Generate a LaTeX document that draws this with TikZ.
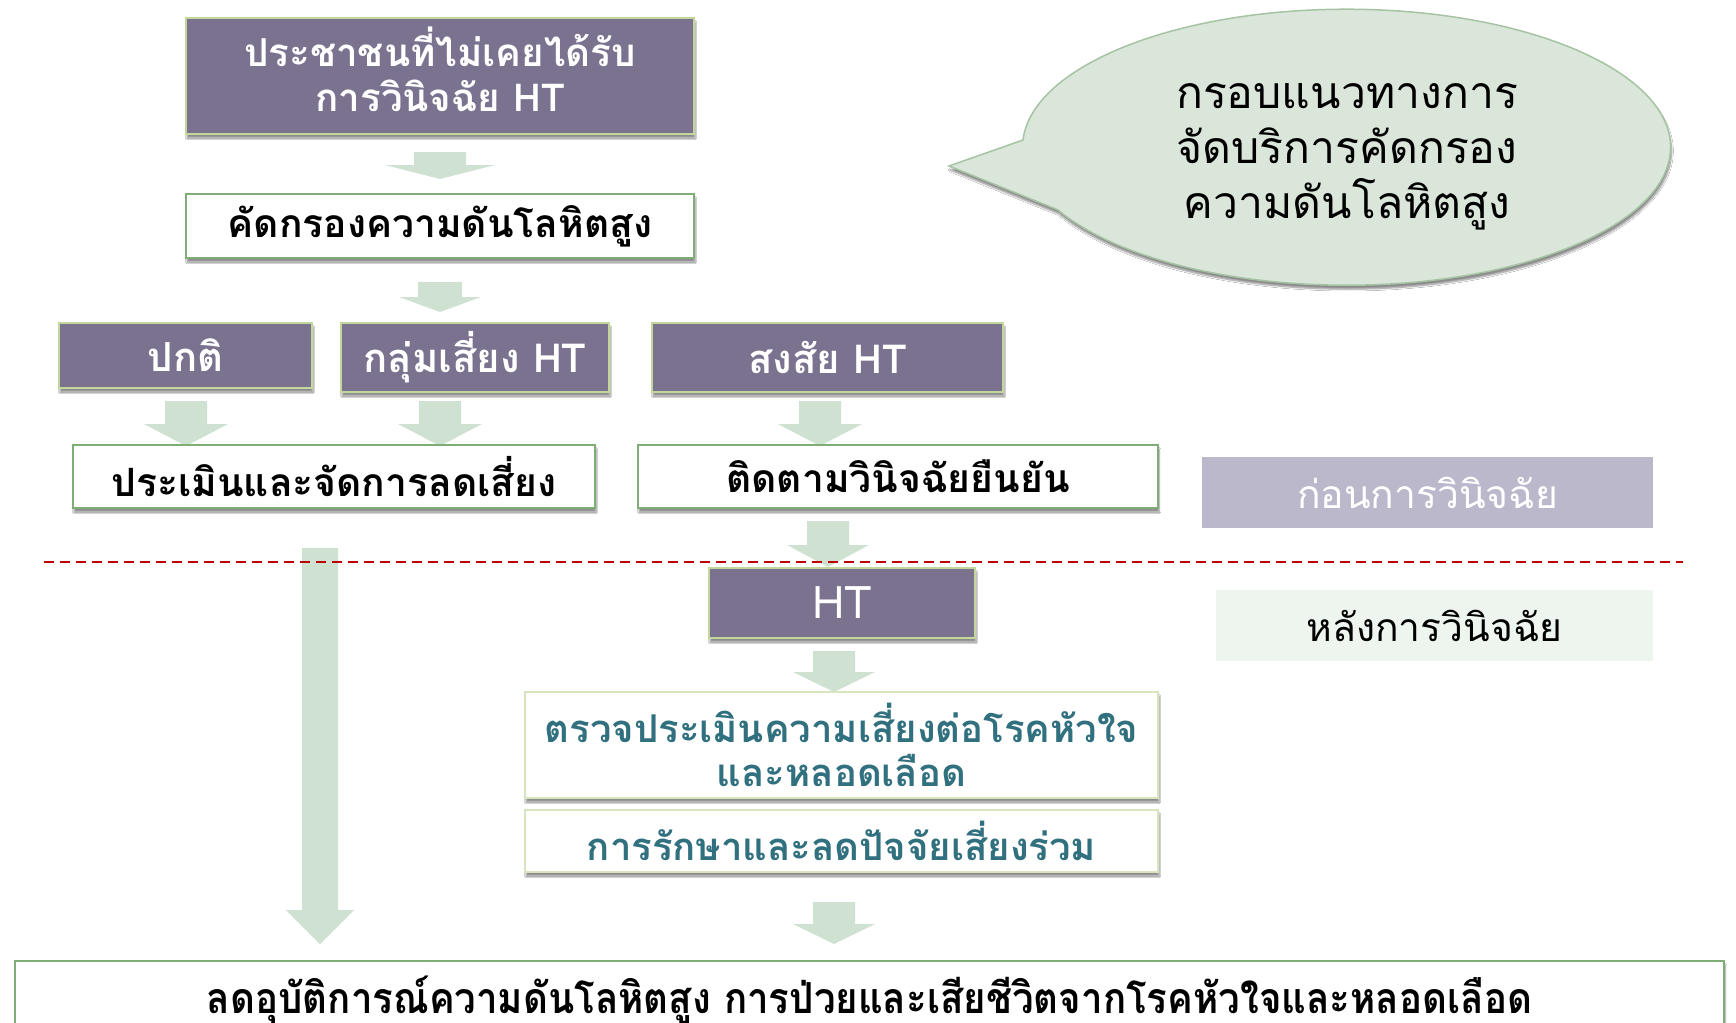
\documentclass[tikz,border=0pt]{standalone}
\usepackage{fontspec}
\usepackage{graphicx}
\newfontfamily\thai[Script=Thai]{Loma}
\usetikzlibrary{shadows.blur,calc}
\definecolor{purp}{HTML}{7B7290}
\definecolor{oliveb}{HTML}{C4D79B}
\definecolor{greenb}{HTML}{7EAD76}
\definecolor{paleb}{HTML}{D7E4BD}
\definecolor{arrowc}{HTML}{CFE1D1}
\definecolor{bubblef}{HTML}{DAE6DA}
\definecolor{bubbled}{HTML}{A6C3A3}
\definecolor{beforef}{HTML}{BCB8CB}
\definecolor{afterf}{HTML}{EEF5EE}
\definecolor{tealt}{HTML}{31707F}
\definecolor{redd}{HTML}{C00000}
\newcommand\bkarrow[5]{% from, to, shaft half width, head half width, head length
  \fill[arrowc] let \p1=(#1), \p2=(#2) in
    (\x1-#3pt,\y1) -- (\x1+#3pt,\y1) -- (\x1+#3pt,\y2+#5pt) -- (\x1+#4pt,\y2+#5pt)
    -- (\x1,\y2) -- (\x1-#4pt,\y2+#5pt) -- (\x1-#3pt,\y2+#5pt) -- cycle;}
\tikzset{
  sh/.style={blur shadow={shadow xshift=1pt, shadow yshift=-4pt, shadow blur steps=6, shadow opacity=45}},
  pbox/.style={sh, draw=oliveb, line width=1.5pt, fill=purp, text=white, align=center, inner sep=0pt,
    font=\thai\bfseries\fontsize{40}{44}\selectfont},
  wbox/.style={sh, draw=greenb, line width=1.5pt, fill=white, text=black, align=center, inner sep=0pt,
    font=\thai\bfseries\fontsize{39}{44}\selectfont},
  tbox/.style={sh, draw=paleb, line width=1.5pt, fill=white, text=tealt, align=center, inner sep=0pt,
    font=\thai\bfseries\fontsize{38.3}{44}\selectfont},
  tag/.style={inner sep=0pt, align=center, font=\thai\fontsize{39}{44}\selectfont},
}
\begin{document}
\begin{tikzpicture}[x=1pt,y=-1pt]
\useasboundingbox (0,0) rectangle (1736,1022);
\clip (0,0) rectangle (1736,1022);
\fill[white] (0,0) rectangle (1736,1022);

% speech bubble
\path[sh, fill=bubblef, draw=bubbled, line width=1.5pt]
  (949,166) -- (1023,140) arc[start angle=183, end angle=513, x radius=324, y radius=138] -- cycle;
\node[tag, font=\thai\fontsize{44.5}{55}\selectfont] (bubble) at (1347,157)
  {กรอบแนวทางการ\\จัดบริการคัดกรอง\\ความดันโลหิตสูง};

% arrows (named end points)
\coordinate (a1s) at (440,152); \coordinate (a1e) at (440,179);
\coordinate (a2s) at (440,282); \coordinate (a2e) at (440,312);
\coordinate (a3s) at (186,401); \coordinate (a3e) at (186,446);
\coordinate (a4s) at (440,401); \coordinate (a4e) at (440,446);
\coordinate (a5s) at (820,401); \coordinate (a5e) at (820,446);
\coordinate (a6s) at (828,521); \coordinate (a6e) at (828,567);
\coordinate (a7s) at (834,651); \coordinate (a7e) at (834,692);
\coordinate (a8s) at (834,902); \coordinate (a8e) at (834,944);
\coordinate (a9s) at (320,548); \coordinate (a9e) at (320,944);
\bkarrow{a1s}{a1e}{26}{55}{14}
\bkarrow{a2s}{a2e}{22}{41}{15}
\bkarrow{a3s}{a3e}{21}{42}{22}
\bkarrow{a4s}{a4e}{21}{42}{22}
\bkarrow{a5s}{a5e}{21}{42}{22}
\bkarrow{a6s}{a6e}{21}{41}{22}
\bkarrow{a7s}{a7e}{21}{41}{20}
\bkarrow{a8s}{a8e}{21}{41}{20}
\bkarrow{a9s}{a9e}{18}{34}{34}

% divider
\coordinate (dl) at (44,562); \coordinate (dr) at (1683,562);
\draw[redd, line width=2pt, dash pattern=on 10pt off 6pt] (dl) -- (dr);

% boxes
\node[pbox, minimum width=508, minimum height=116, font=\thai\bfseries\fontsize{38.5}{44}\selectfont] (top) at (440,76)
  {\raisebox{8pt}{\begin{tabular}{@{}c@{}}ประชาชนที่ไม่เคยได้รับ\\การวินิจฉัย HT\end{tabular}}};
\node[wbox, minimum width=508, minimum height=64] (scr) at (440,226) {\raisebox{-3pt}{คัดกรองความดันโลหิตสูง}};
\node[pbox, minimum width=253, minimum height=65] (norm) at (185.5,355.5) {ปกติ};
\node[pbox, minimum width=268, minimum height=69] (risk) at (475,357.5) {กลุ่มเสี่ยง HT};
\node[pbox, minimum width=351, minimum height=69] (susp) at (827.5,357.5) {สงสัย HT};
\node[wbox, minimum width=522, minimum height=63] (assess) at (334,476.5) {ประเมินและจัดการลดเสี่ยง};
\node[wbox, minimum width=520, minimum height=63] (follow) at (898,476.5) {ติดตามวินิจฉัยยืนยัน};
\node[pbox, minimum width=266, minimum height=70, font=\thai\fontsize{45}{44}\selectfont] (ht) at (842,603) {HT};
\node[tbox, minimum width=633, minimum height=106] (cvd) at (841.5,745)
  {ตรวจประเมินความเสี่ยงต่อโรคหัวใจ\\และหลอดเลือด};
\node[tbox, minimum width=633, minimum height=62] (treat) at (841.5,841) {การรักษาและลดปัจจัยเสี่ยงร่วม};
\node[wbox, minimum width=1709, minimum height=79, font=\thai\bfseries\fontsize{46}{50}\selectfont] (out) at (869.5,1000.5)
  {\raisebox{12pt}{\scalebox{0.836}[0.93]{ลดอุบัติการณ์ความดันโลหิตสูง การป่วยและเสียชีวิตจากโรคหัวใจและหลอดเลือด}}};

% phase labels
\node[tag, fill=beforef, text=white, minimum width=451, minimum height=71] (before) at (1427.5,492.5) {ก่อนการวินิจฉัย};
\node[tag, fill=afterf, text=black, minimum width=437, minimum height=71] (after) at (1434.5,625.5) {หลังการวินิจฉัย};
\end{tikzpicture}
\end{document}
